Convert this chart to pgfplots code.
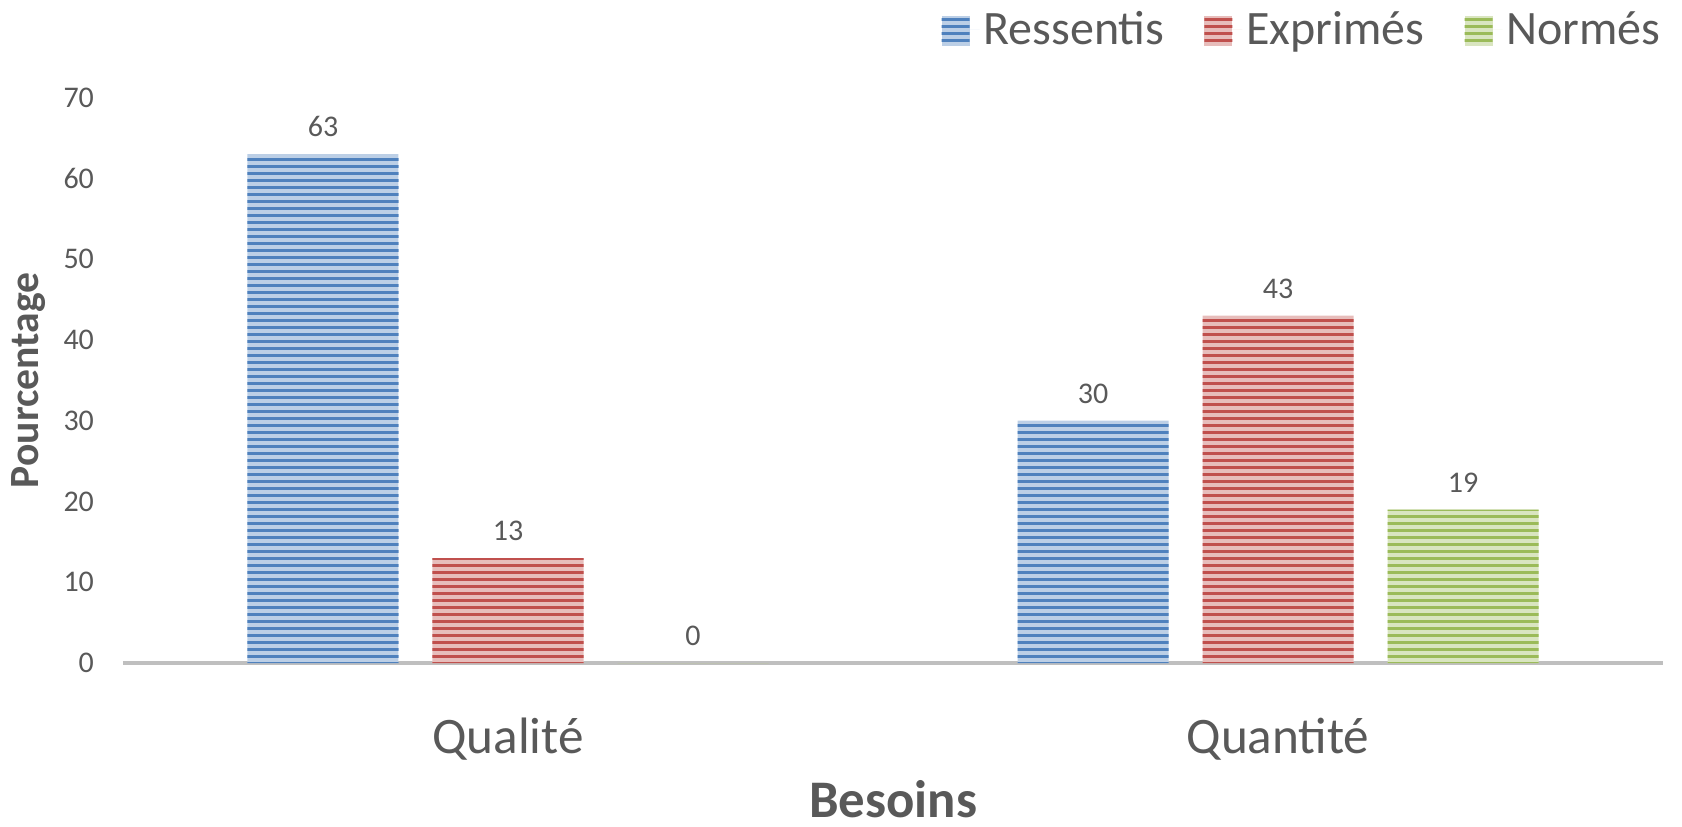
\documentclass[border=0pt]{standalone}
\usepackage{pgfplots}
\pgfplotsset{compat=1.18}
\usetikzlibrary{patterns}
\usepackage{fontspec}
\setmainfont{Carlito}
\definecolor{cblue}{HTML}{4F81BD}
\definecolor{cred}{HTML}{C0504D}
\definecolor{cgreen}{HTML}{9BBB59}
\definecolor{txt}{HTML}{595959}
\definecolor{axl}{HTML}{BFBFBF}
\pgfdeclarepatternformonly{hstripes}{\pgfpoint{-1pt}{0pt}}{\pgfpoint{201pt}{3.5pt}}{\pgfpoint{200pt}{3.5pt}}{%
  \pgfpathrectangle{\pgfpoint{-1pt}{0pt}}{\pgfpoint{202pt}{1.6pt}}\pgfusepath{fill}}
\pgfplotsset{
  mylegend/.style={legend image code/.code={\draw[##1, draw=none] (0pt,-8pt) rectangle (14pt,7pt); \path (0pt,0pt) -- (19pt,0pt);}},
  stripes/.style={fill=#1!38!white, draw=none,
    postaction={pattern=hstripes, pattern color=#1}}
}
\begin{document}
\begin{tikzpicture}
\path[use as bounding box] (-61.5pt,-81.5pt) rectangle (779.5pt,331.5pt);
\begin{axis}[
  scale only axis, width=770pt, height=282.7pt,
  xmin=-0.5, xmax=1.5, ymin=0, ymax=70,
  xtick={0,1}, xticklabels={Qualité,Quantité},
  ytick={0,10,...,70},
  ybar=17pt, bar width=75.5pt,
  axis x line=bottom, axis y line=left,
  x axis line style={draw=axl, line width=2pt, -},
  y axis line style={draw=none},
  major tick length=0pt, tick style={draw=none},
  /pgf/number format/assume math mode=true,
  yticklabel style={font=\fontsize{15}{17}\selectfont, text=txt, anchor=east, xshift=-11pt},
  xticklabel style={font=\fontsize{25.6}{30}\selectfont, text=txt, anchor=base, yshift=-45pt},
  xlabel={\textbf{Besoins}},
  xlabel style={at={(axis description cs:0.5,0)}, anchor=base, inner sep=1pt, yshift=-77pt, font=\fontsize{26.4}{30}\selectfont, text=txt},
  ylabel={\textbf{Pourcentage}},
  ylabel style={at={(axis description cs:0,0.5)}, anchor=center, yshift=47pt, font=\fontsize{20.8}{24}\selectfont, text=txt},
  nodes near coords,
  every node near coord/.append style={font=\fontsize{15}{17}\selectfont, text=txt, yshift=5pt},
  legend columns=3,
  legend style={draw=none, fill=none, at={(axis description cs:1,1)}, anchor=east, yshift=34pt, xshift=4pt,
    font=\fontsize{24}{28}\selectfont, text=txt,
    /tikz/every even column/.append style={column sep=18pt}},
  clip=false,
]
\addplot[stripes=cblue, mylegend] coordinates {(0,63) (1,30)};
\addplot[stripes=cred, mylegend] coordinates {(0,13) (1,43)};
\addplot[stripes=cgreen, mylegend] coordinates {(0,0) (1,19)};
\legend{Ressentis,Exprimés,Normés}
\end{axis}
\end{tikzpicture}
\end{document}
